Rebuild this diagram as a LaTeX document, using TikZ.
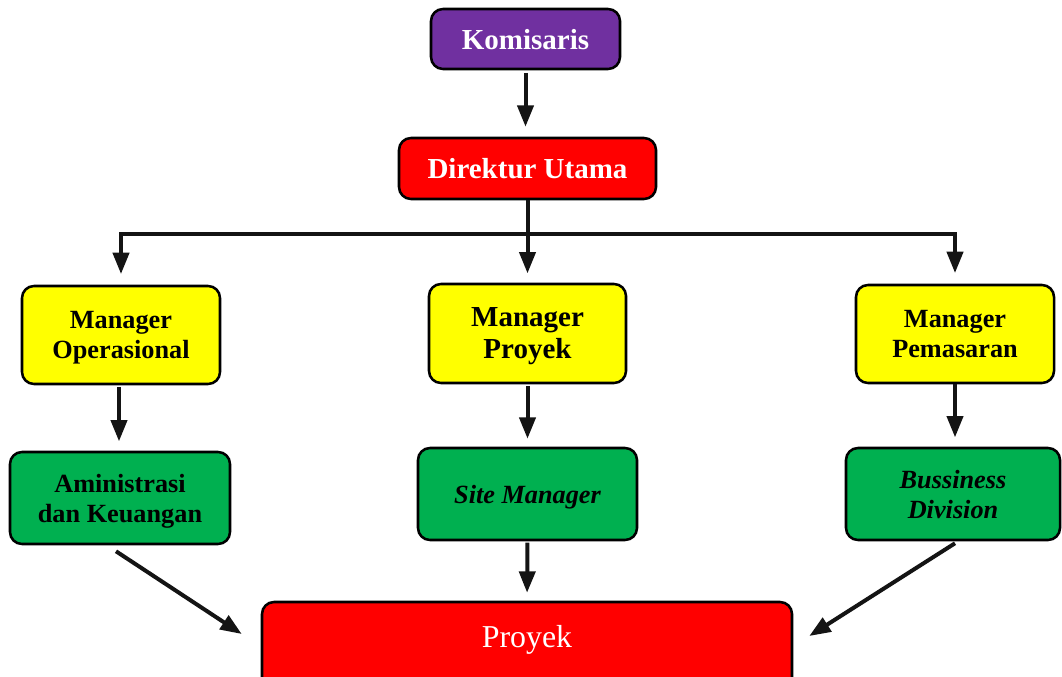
\documentclass[tikz,border=0pt]{standalone}
\usepackage{fontspec}
\setmainfont{Liberation Serif}
\usetikzlibrary{arrows.meta,calc}
\definecolor{kpurple}{HTML}{7030A0}
\definecolor{kred}{HTML}{FF0000}
\definecolor{kyellow}{HTML}{FFFF00}
\definecolor{kgreen}{HTML}{00B050}
\begin{document}
\begin{tikzpicture}[x=0.75pt,y=-0.75pt,
  box/.style={draw=black,line width=1.9pt,rounded corners=9pt,align=center,inner sep=0pt,text depth=0pt},
  big/.style={font=\fontsize{21.75}{24}\selectfont\bfseries},
  med/.style={font=\fontsize{19.7}{22.5}\selectfont\bfseries},
  conn/.style={line width=3pt,draw=black!92},
  arr/.style={conn,-{Triangle[length=16pt,width=12pt]}},
]
\useasboundingbox (0,0) rectangle (1062,677);
\node[box,big,fill=kpurple,text=white,minimum width=141.75pt,minimum height=45pt] (kom) at (525.5,39) {Komisaris};
\node[box,big,fill=kred,text=white,minimum width=192.75pt,minimum height=45.75pt] (dir) at (527.5,168.5) {Direktur Utama};
\node[box,med,fill=kyellow,minimum width=148.5pt,minimum height=73.5pt] (mo) at (121,335) {Manager\\Operasional};
\node[box,big,fill=kyellow,minimum width=147.75pt,minimum height=74.25pt] (mp) at (527.5,333.5) {Manager\\Proyek};
\node[box,med,fill=kyellow,minimum width=148.5pt,minimum height=73.5pt] (mpem) at (955,334) {Manager\\Pemasaran};
\node[box,med,fill=kgreen,minimum width=165pt,minimum height=69pt] (adm) at (120,498) {Aministrasi\\dan Keuangan};
\node[box,med,fill=kgreen,minimum width=164.25pt,minimum height=69pt] (site) at (527.5,494) {\itshape Site Manager};
\node[box,med,fill=kgreen,minimum width=160.5pt,minimum height=69pt] (bus) at (953,494) {\itshape Bussiness\\\itshape Division};
\node[box,fill=kred,minimum width=397.5pt,minimum height=67.5pt] (pro) at (527,647) {};
\node[text=white,font=\fontsize{23.9}{26}\selectfont] (protext) at (527,640) {Proyek};
\coordinate (busy) at (527,234);
% connectors
\draw[arr,shorten <=2pt,shorten >=7.5pt] (kom.south) -- (kom.south |- dir.north);
\draw[conn] (dir.south) -- (dir.south |- busy);
\draw[conn,line cap=rect] (mo.north |- busy) -- (mpem.north |- busy);
\draw[arr,shorten >=8pt] (mo.north |- busy) -- (mo.north);
\draw[arr,shorten >=7pt] (mp.north |- busy) -- (mp.north);
\draw[arr,shorten >=8pt] (mpem.north |- busy) -- (mpem.north);
\draw[arr,shorten <=1.5pt,shorten >=7pt] ($(mo.south)+(-2,0)$) -- ($(adm.north)+(-1,0)$);
\draw[arr,shorten <=1.5pt,shorten >=6pt] (mp.south) -- (site.north);
\draw[arr,shorten <=0pt,shorten >=7pt] (mpem.south) -- (mpem.south |- bus.north);
\draw[arr] ($(adm.south)+(-4,6)$) -- ($(pro.west)+(-19,-13)$);
\draw[arr,shorten <=1pt,shorten >=6pt] (site.south) -- (pro.north);
\draw[arr] ($(bus.south)+(2,2)$) -- ($(pro.east)+(16,-11)$);
\end{tikzpicture}
\end{document}
